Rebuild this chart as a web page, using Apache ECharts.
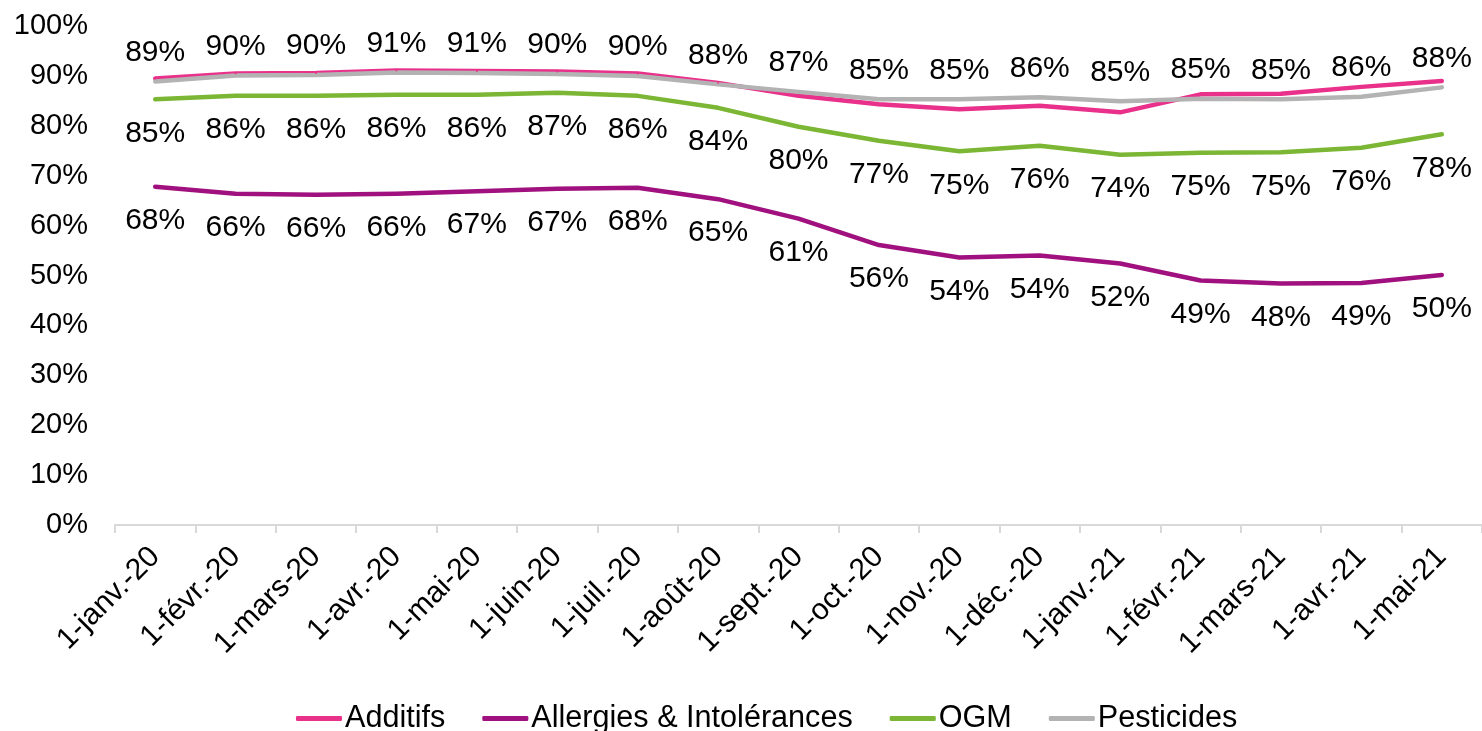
<!DOCTYPE html>
<html>
<head>
<meta charset="utf-8">
<script src="https://cdn.jsdelivr.net/npm/echarts@6/dist/echarts.min.js"></script>
<style>html,body{margin:0;padding:0;background:#fff}#c{width:1482px;height:731px}</style>
</head>
<body>
<div id="c"></div>
<script>
const categories = ["1-janv.-20","1-févr.-20","1-mars-20","1-avr.-20","1-mai-20","1-juin-20","1-juil.-20","1-août-20","1-sept.-20","1-oct.-20","1-nov.-20","1-déc.-20","1-janv.-21","1-févr.-21","1-mars-21","1-avr.-21","1-mai-21"];
const additifs = [89.5,90.5,90.6,91.1,91.0,90.9,90.5,88.6,86.0,84.3,83.3,84.0,82.7,86.3,86.4,87.8,89.0];
const allergies = [67.8,66.4,66.2,66.4,66.9,67.4,67.6,65.3,61.4,56.1,53.6,54.0,52.4,49.0,48.4,48.5,50.1];
const ogm = [85.3,86.0,86.0,86.2,86.2,86.6,86.0,83.6,79.8,77.0,74.9,76.0,74.2,74.6,74.7,75.6,78.3];
const pesticides = [88.9,90.1,90.2,90.7,90.6,90.4,90.0,88.3,86.8,85.3,85.3,85.7,84.9,85.4,85.3,85.8,87.7];
const yTicks = [0,10,20,30,40,50,60,70,80,90,100];

const FONT = '"Liberation Sans", Arial, sans-serif';
const pct = p => Math.round(p.value) + '%';
function lineSeries(name, data, color, labelPos) {
  const s = {
    name, type: 'line', data, symbol: 'circle', symbolSize: 2, showSymbol: true, smooth: false,
    lineStyle: { color, width: 4.5, cap: 'round', join: 'round' },
    itemStyle: { color },
    label: { show: false }
  };
  if (labelPos) {
    s.label = { show: true, position: labelPos, distance: labelPos === 'top' ? 13 : 18,
      formatter: pct, color: '#000', fontSize: 30, fontFamily: FONT };
  }
  return s;
}
const chart = echarts.init(document.getElementById('c'));
chart.setOption({
  animation: false,
  backgroundColor: '#fff',
  grid: { left: 115, right: -3, top: 26, bottom: 206, containLabel: false },
  xAxis: {
    type: 'category', data: categories, boundaryGap: true,
    axisLine: { show: true, lineStyle: { color: '#d9d9d9', width: 2 } },
    axisTick: { show: true, length: 8, lineStyle: { color: '#d9d9d9', width: 2 } },
    axisLabel: { rotate: 45, margin: 27, color: '#000', fontSize: 30, fontFamily: FONT, interval: 0 },
    splitLine: { show: false }
  },
  yAxis: {
    type: 'value', min: yTicks[0], max: yTicks[yTicks.length-1], interval: 10,
    axisLine: { show: false }, axisTick: { show: false }, splitLine: { show: false },
    axisLabel: { formatter: '{value}%', color: '#000', fontSize: 29, fontFamily: FONT, margin: 27 }
  },
  legend: {
    left: 291, top: 698, itemGap: 37, itemWidth: 46, itemHeight: 5, icon: 'roundRect',
    textStyle: { color: '#000', fontSize: 30.6, fontFamily: FONT, padding: [0,0,0,-2] },
    data: ['Additifs','Allergies & Intolérances','OGM','Pesticides']
  },
  series: [
    lineSeries('Additifs', additifs, '#E9318B', null),
    lineSeries('Allergies & Intolérances', allergies, '#A0117F', 'bottom'),
    lineSeries('OGM', ogm, '#7BB634', 'bottom'),
    lineSeries('Pesticides', pesticides, '#B3B3B3', 'top')
  ]
});
</script>
</body>
</html>
